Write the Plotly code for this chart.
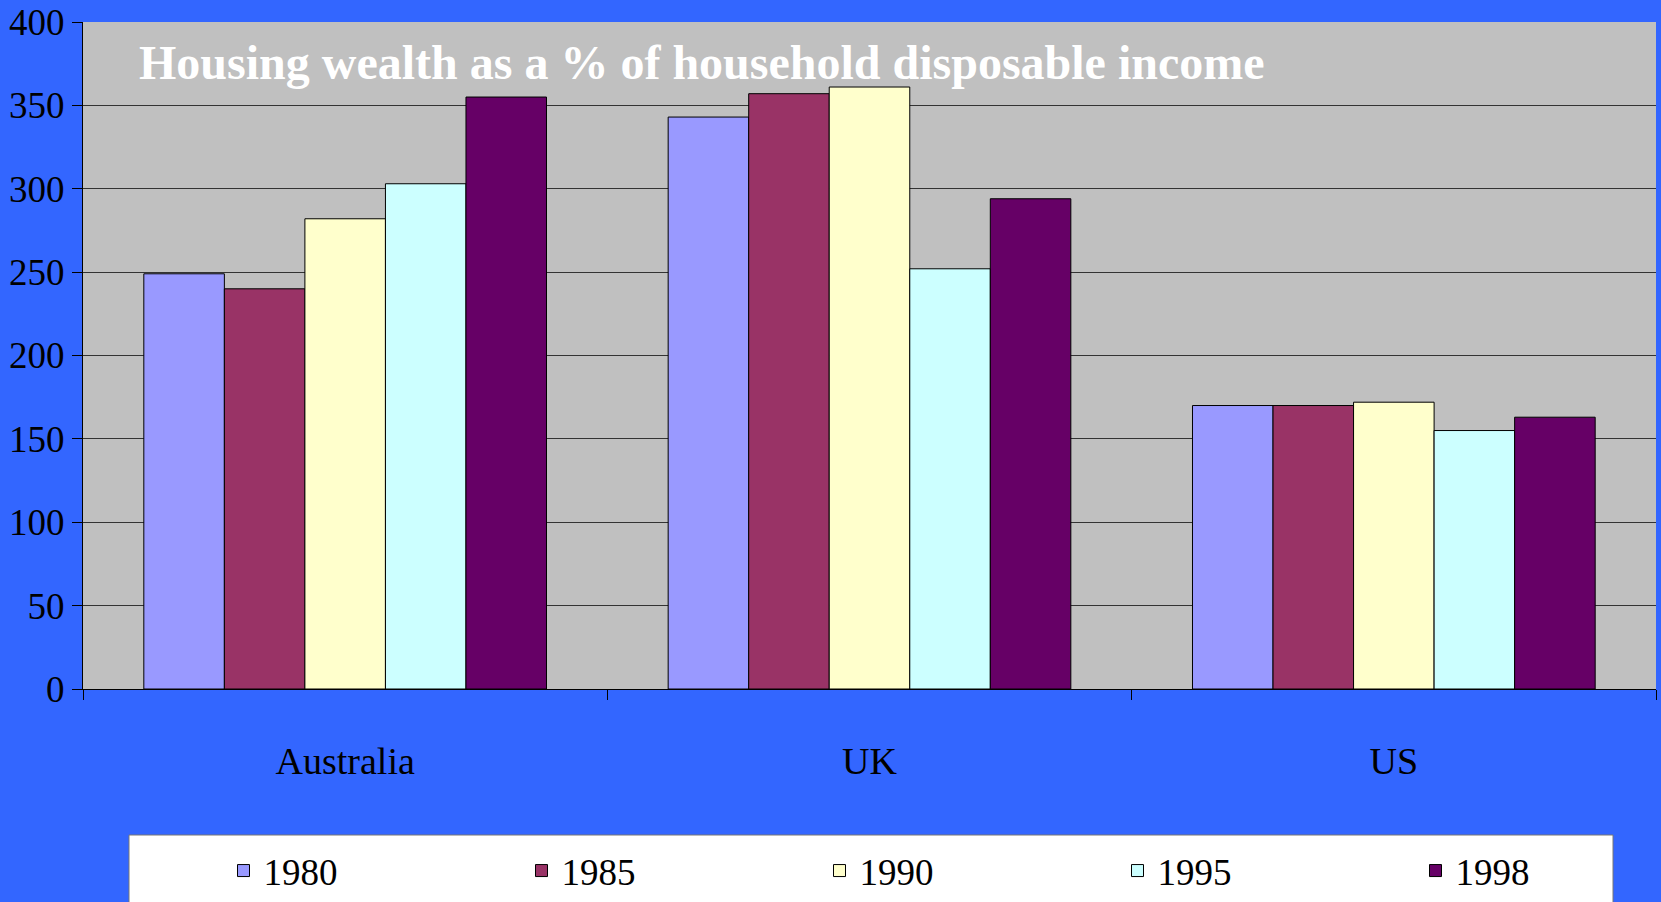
import plotly.graph_objects as go

countries = ["Australia", "UK", "US"]
years = ["1980", "1985", "1990", "1995", "1998"]
values = {
    "1980": [249, 343, 170],
    "1985": [240, 357, 170],
    "1990": [282, 361, 172],
    "1995": [303, 252, 155],
    "1998": [355, 294, 163],
}
colors = {
    "1980": "#9999FF",
    "1985": "#993366",
    "1990": "#FFFFCC",
    "1995": "#CCFFFF",
    "1998": "#660066",
}
title_text = "Housing wealth as a % of household disposable income"

fig = go.Figure()
for y in years:
    fig.add_trace(go.Bar(
        name=y, x=countries, y=values[y],
        marker=dict(color=colors[y], line=dict(color="black", width=1)),
    ))

W, H = 1661, 902
L, R, T, B = 83, 5, 22, 213
pw = W - L - R
ph = H - T - B

def px_x(p):
    return (p - L) / pw

def px_y(p):
    return (H - B - p) / ph

serif = "Liberation Serif, Times New Roman, serif"

fig.update_layout(
    width=W, height=H,
    margin=dict(l=L, r=R, t=T, b=B, autoexpand=False),
    paper_bgcolor="#3366FF",
    plot_bgcolor="#C0C0C0",
    barmode="group",
    bargap=0.232,
    bargroupgap=0,
    font=dict(family=serif, color="black"),
    showlegend=True,
    legend=dict(
        orientation="h",
        xref="paper", yref="paper",
        x=px_x(223.5), xanchor="left",
        y=px_y(840), yanchor="top",
        bgcolor="rgba(0,0,0,0)",
        borderwidth=0,
        entrywidth=253, entrywidthmode="pixels",
        font=dict(family=serif, size=37, color="black"),
        traceorder="normal",
    ),
    xaxis=dict(
        type="category",
        showline=True, linecolor="black", linewidth=1,
        ticks="outside", tickson="boundaries", ticklen=10, tickcolor="black",
        tickfont=dict(family=serif, size=38, color="black"),
        ticklabelstandoff=38,
        showgrid=False,
    ),
    yaxis=dict(
        range=[0, 400], dtick=50,
        showline=True, linecolor="black", linewidth=1,
        ticks="outside", ticklen=10, tickcolor="black",
        tickfont=dict(family=serif, size=37, color="black"),
        ticklabelstandoff=0,
        showgrid=True, gridcolor="#333333", gridwidth=1,
        zeroline=False,
    ),
    shapes=[dict(
        type="rect", xref="paper", yref="paper",
        x0=px_x(129), x1=px_x(1613), y0=px_y(910), y1=px_y(835),
        fillcolor="white", line=dict(color="#777777", width=1),
        layer="above",
    )],
    annotations=[dict(
        text=title_text, xref="paper", yref="paper",
        x=px_x(137), xanchor="left", y=px_y(62), yanchor="middle",
        showarrow=False,
        font=dict(family=serif, size=48, color="white", weight="bold"),
    )],
)

fig.write_html(
    "out.html",
    config={"displayModeBar": False},
    post_script="document.body.style.margin='0';document.body.style.overflow='hidden';",
)
